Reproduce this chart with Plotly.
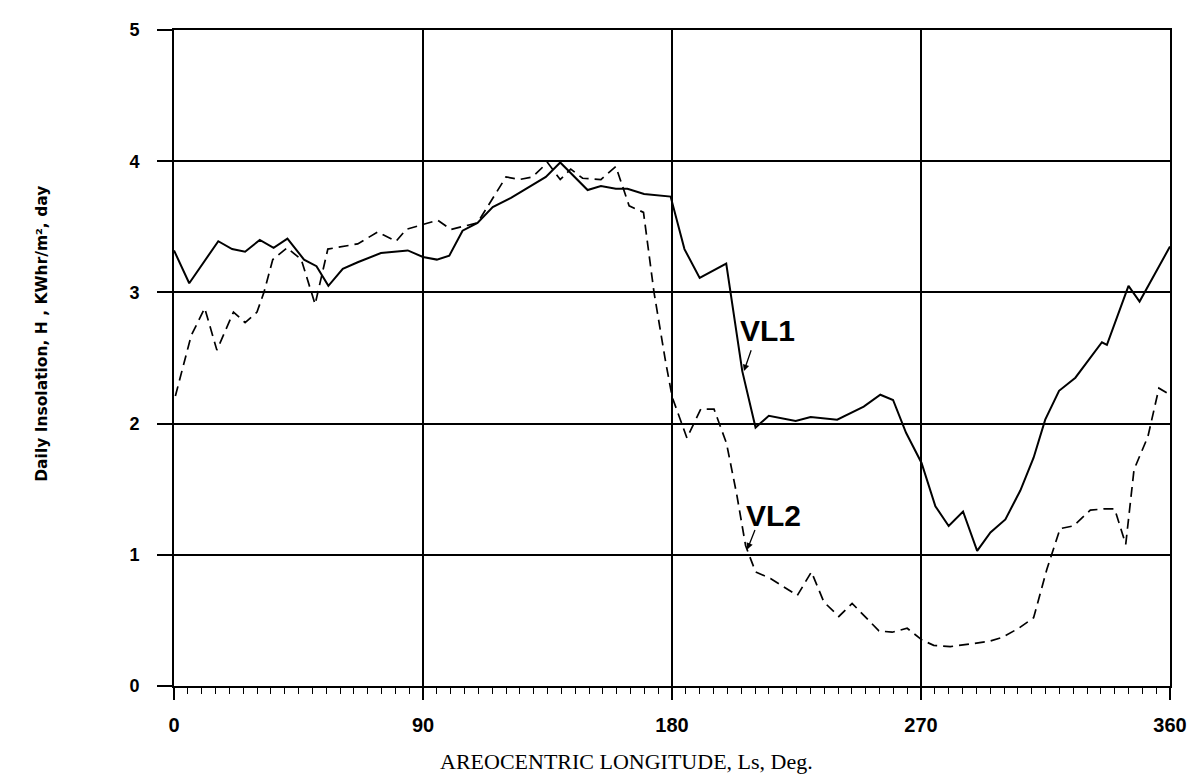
import plotly.graph_objects as go

# ---- data ----
vl1_ls = [0, 5.5, 16, 21, 25.7, 31, 36, 41, 47, 51.5, 55.8, 61, 66.4, 74.8, 84.5, 90, 95, 99.5,
          104.3, 109.7, 115.2, 121.8, 134.4, 139.6, 149.5, 154.3, 159.7, 163.9, 169.9, 179.5,
          184.5, 190, 199.6, 201.2, 205.4, 210.2, 215, 224.7, 230.1, 239.7, 249.3, 255.3, 259.9,
          264.6, 270.2, 275.2, 280, 285.2, 290.3, 295.1, 300.5, 305.9, 310.7, 314.9, 319.9,
          325.8, 335.4, 337.2, 345, 349, 360]
vl1_h = [3.32, 3.07, 3.39, 3.33, 3.31, 3.40, 3.34, 3.41, 3.25, 3.20, 3.05, 3.18, 3.23, 3.30, 3.32,
         3.27, 3.25, 3.28, 3.47, 3.53, 3.65, 3.72, 3.88, 3.99, 3.78, 3.81, 3.79, 3.79, 3.75, 3.73,
         3.33, 3.11, 3.22, 3.00, 2.40, 1.97, 2.06, 2.02, 2.05, 2.03, 2.13, 2.22, 2.18,
         1.93, 1.70, 1.37, 1.22, 1.33, 1.03, 1.17, 1.27, 1.49, 1.74, 2.03, 2.25,
         2.35, 2.62, 2.60, 3.05, 2.93, 3.35]

vl2_ls = [0.5, 6.2, 11.1, 15.5, 21.5, 25.7, 30, 32.5, 35.7, 40.9, 46, 51, 55.6, 61.6, 66.4, 73.6,
          80.3, 83.9, 90.5, 95.3, 100.1, 109.7, 120, 124.8, 129.6, 135, 139.6, 143.4, 147.7,
          154.3, 159.7, 164.5, 169.7, 173.5, 177.7, 180.1, 185.4, 190.4, 195.2, 199.7, 203.4,
          206.6, 210.2, 215.6, 225.3, 230.4, 234.9, 240.3, 245.1, 254.8, 259.6, 265, 270.4,
          274.6, 280.6, 287.8, 294.5, 299.3, 305.3, 310.7, 315.5, 320.3, 325.1, 331.2, 336,
          340, 344, 347, 352, 356, 360]
vl2_h = [2.21, 2.67, 2.88, 2.56, 2.85, 2.77, 2.85, 3.00, 3.25, 3.34, 3.25, 2.91, 3.33, 3.35, 3.37,
         3.46, 3.39, 3.48, 3.52, 3.55, 3.48, 3.53, 3.88, 3.86, 3.88, 3.99, 3.86, 3.94, 3.87,
         3.86, 3.96, 3.66, 3.61, 3.00, 2.47, 2.20, 1.89, 2.11, 2.11, 1.85, 1.46,
         1.07, 0.87, 0.82, 0.69, 0.87, 0.64, 0.53, 0.63, 0.42, 0.41, 0.44, 0.35,
         0.31, 0.30, 0.32, 0.34, 0.37, 0.44, 0.52, 0.89, 1.20, 1.22, 1.34, 1.35,
         1.35, 1.08, 1.65, 1.90, 2.27, 2.22]

x_ticks = [0, 90, 180, 270, 360]
x_tick_labels = ["0", "90", "180", "270", "360"]
y_ticks = [0, 1, 2, 3, 4, 5]
y_tick_labels = ["0", "1", "2", "3", "4", "5"]

x_title = "AREOCENTRIC LONGITUDE, Ls, Deg."
y_title = "Daily Insolation, H , KWhr/m², day"

fig = go.Figure()
fig.add_trace(go.Scatter(x=vl1_ls, y=vl1_h, mode="lines", name="VL1",
                         line=dict(color="black", width=2)))
fig.add_trace(go.Scatter(x=vl2_ls, y=vl2_h, mode="lines", name="VL2",
                         line=dict(color="black", width=1.7, dash="10px,6px")))

# labels with arrows
fig.add_annotation(x=214.5, y=2.71, text="<b>VL1</b>", showarrow=False,
                   font=dict(family="Liberation Sans", size=30, color="black"))
fig.add_annotation(x=206, y=2.40, ax=208.8, ay=2.57, axref="x", ayref="y", xref="x", yref="y",
                   text="", showarrow=True, arrowhead=2, arrowsize=1, arrowwidth=1.3,
                   arrowcolor="black")
fig.add_annotation(x=216.6, y=1.30, text="<b>VL2</b>", showarrow=False,
                   font=dict(family="Liberation Sans", size=30, color="black"))
fig.add_annotation(x=207.2, y=1.04, ax=210.2, ay=1.20, axref="x", ayref="y", xref="x", yref="y",
                   text="", showarrow=True, arrowhead=2, arrowsize=1, arrowwidth=1.3,
                   arrowcolor="black")

# axis titles placed as paper-pixel annotations
W, H = 1195, 775
fig.add_annotation(xref="paper", yref="paper", x=(618 - 166) / (1162 - 166), y=(678 - 754) / (678 - 15),
                   text=x_title, showarrow=False, xanchor="center", yanchor="middle",
                   font=dict(family="Liberation Serif", size=22, color="black"))
fig.add_annotation(xref="paper", yref="paper", x=(34 - 166) / (1162 - 166), y=(678 - 322) / (678 - 15),
                   text="<b>" + y_title + "</b>", showarrow=False, textangle=-90,
                   xanchor="center", yanchor="middle",
                   font=dict(family="DejaVu Sans", size=15.5, color="black"))

fig.update_layout(
    width=W, height=H,
    margin=dict(l=166, r=33, t=15, b=97),
    paper_bgcolor="white", plot_bgcolor="white",
    showlegend=False,
    font=dict(family="Liberation Serif", color="black"),
)
fig.update_xaxes(
    range=[0, 360], tickvals=x_ticks, ticktext=x_tick_labels,
    showgrid=True, gridcolor="black", gridwidth=1.5,
    showline=True, linecolor="black", linewidth=2, mirror=True,
    ticks="outside", ticklen=12, tickwidth=1.5, tickcolor="black",
    ticklabelstandoff=8,
    minor=dict(dtick=5, ticks="outside", ticklen=6, tickwidth=1, tickcolor="black", showgrid=False),
    tickfont=dict(family="Liberation Sans Narrow, Liberation Sans", size=20, color="black", weight="bold"),
    zeroline=False,
)
fig.update_yaxes(
    range=[0, 5], tickvals=y_ticks, ticktext=y_tick_labels,
    showgrid=True, gridcolor="black", gridwidth=1.5,
    showline=True, linecolor="black", linewidth=2, mirror=True,
    ticks="outside", ticklen=15, tickwidth=1.5, tickcolor="black",
    ticklabelstandoff=14,
    tickfont=dict(family="Liberation Sans", size=18, color="black", weight="bold"),
    zeroline=False,
)

fig.write_html("out.html")
